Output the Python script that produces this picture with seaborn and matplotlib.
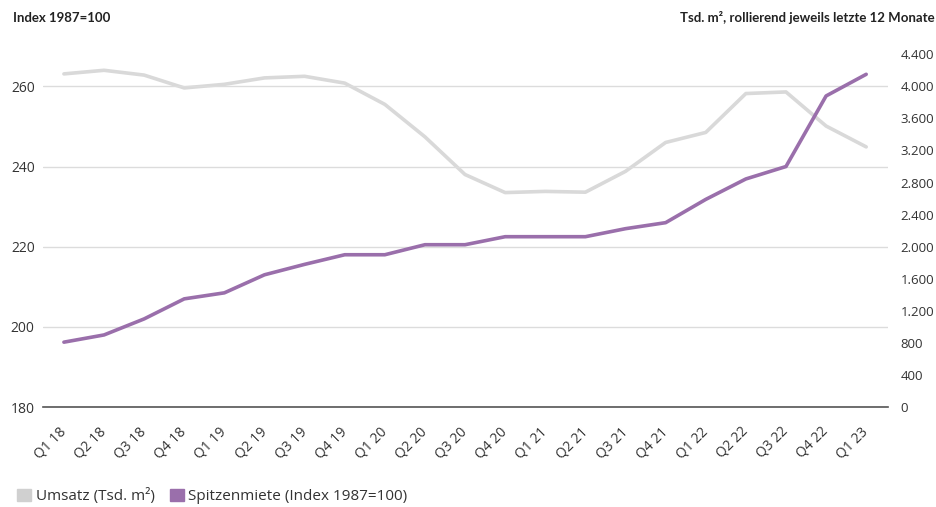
import matplotlib
matplotlib.use("Agg")
import matplotlib.pyplot as plt
import matplotlib.ticker as mticker
from matplotlib.patches import Patch
import seaborn as sns
import pandas as pd

quarters = ["Q1 18", "Q2 18", "Q3 18", "Q4 18", "Q1 19", "Q2 19", "Q3 19",
            "Q4 19", "Q1 20", "Q2 20", "Q3 20", "Q4 20", "Q1 21", "Q2 21",
            "Q3 21", "Q4 21", "Q1 22", "Q2 22", "Q3 22", "Q4 22", "Q1 23"]
# Spitzenmiete, Index 1987=100 (left axis)
spitzenmiete = [196.2, 198.0, 202.0, 207.0, 208.5, 213.0, 215.6, 218.0, 218.0,
                220.5, 220.5, 222.5, 222.5, 222.5, 224.5, 226.0, 231.8, 236.9,
                240.0, 257.6, 263.0]
# Umsatz, Tsd. m2 (right axis)
umsatz = [4155, 4200, 4140, 3980, 4025, 4105, 4125, 4040, 3775, 3370, 2900,
          2675, 2690, 2680, 2940, 3300, 3425, 3910, 3930, 3505, 3245]

df = pd.DataFrame({"x": range(len(quarters)), "miete": spitzenmiete, "umsatz": umsatz})

purple = "#9a6fab"
grey = "#d9d9d9"
text_c = "#333333"

sns.set_style("white")
plt.rcParams["font.family"] = ["Open Sans", "DejaVu Sans"]

fig = plt.figure(figsize=(9.36, 5.07), dpi=100)
ax = fig.add_axes([0.046, 0.197, 0.903, 0.696])
ax2 = ax.twinx()

sns.lineplot(data=df, x="x", y="umsatz", ax=ax2, color=grey, linewidth=2.6)
sns.lineplot(data=df, x="x", y="miete", ax=ax, color=purple, linewidth=2.6)

# purple line on top of grey one
ax.set_zorder(ax2.get_zorder() + 1)
ax.patch.set_visible(False)

ax.set_xlim(-0.52, 20.55)
ax.set_ylim(180, 268)
ax2.set_ylim(0, 4400)

ax.set_yticks([180, 200, 220, 240, 260])
ax2.set_yticks(range(0, 4401, 400))
ax2.yaxis.set_major_formatter(mticker.FuncFormatter(lambda v, p: f"{int(v):,}".replace(",", ".")))

ax.yaxis.grid(True, color="#dcdcdc", linewidth=1)
ax.set_xticks(df["x"])
ax.set_xticklabels(quarters, rotation=45, ha="right", va="center", rotation_mode="anchor")

for a in (ax, ax2):
    for s in a.spines.values():
        s.set_visible(False)
    a.set_xlabel("")
    a.set_ylabel("")
ax.spines["bottom"].set_visible(True)
ax.spines["bottom"].set_color("#555555")
ax.spines["bottom"].set_linewidth(1.2)

ax.tick_params(axis="x", length=6, width=1.2, color="#555555", labelsize=10,
               labelcolor=text_c, pad=10)
ax.tick_params(axis="y", length=0, labelsize=10, labelcolor=text_c, pad=6)
ax2.tick_params(axis="y", length=0, labelsize=9.5, labelcolor=text_c, pad=9)

fig.text(0.014, 0.965, "Index 1987=100", fontsize=9.5, fontweight="bold",
         color="#222222", family=["Lato", "DejaVu Sans"], va="center")
fig.text(0.998, 0.965, "Tsd. m², rollierend jeweils letzte 12 Monate", fontsize=9.5,
         fontweight="bold", color="#222222", family=["Lato", "DejaVu Sans"],
         ha="right", va="center")

handles = [Patch(color="#d0d0d0", label="Umsatz (Tsd. m²)"),
           Patch(color=purple, label="Spitzenmiete (Index 1987=100)")]
fig.legend(handles=handles, loc="lower left", bbox_to_anchor=(0.004, -0.022),
           ncol=2, frameon=False, fontsize=11, handlelength=0.9, handleheight=0.9,
           handletextpad=0.3, columnspacing=1.0, labelcolor=text_c)

fig.savefig("out.png", dpi=100)
plt.close(fig)
